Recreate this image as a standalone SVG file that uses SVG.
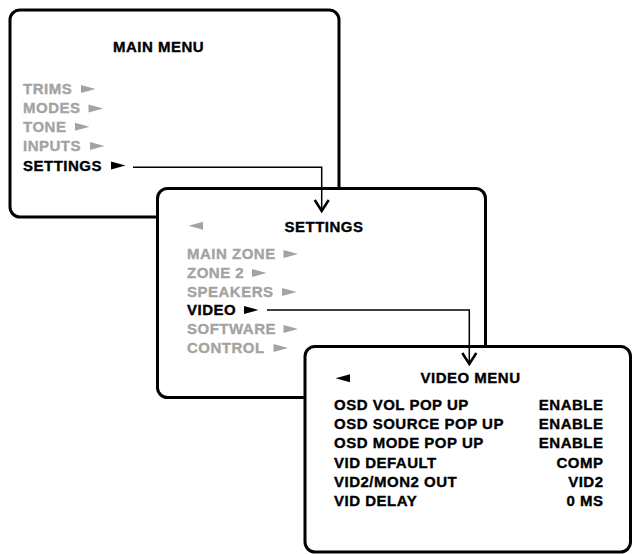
<svg xmlns="http://www.w3.org/2000/svg" width="633" height="554" viewBox="0 0 633 554">
<defs>
<style>
.box{fill:#fff;stroke:#000;stroke-width:3}
text{font-family:"Liberation Sans",Arial,sans-serif;font-weight:bold;font-size:15px;letter-spacing:0.5px;stroke-width:0.35px}
.g{fill:#a3a3a3;stroke:#a3a3a3}
.k{fill:#000;stroke:#000}
.t{text-anchor:middle}
.r{text-anchor:end}
.conn{fill:none;stroke:#000;stroke-width:1.5}
</style>
<polygon id="ptr-r" points="0,-4 14.5,0 0,4"/>
<polygon id="ptr-l" points="14.5,-4 0,0 14.5,4"/>
<marker id="chev" viewBox="-14 -9 16 18" markerWidth="16" markerHeight="18" refX="0" refY="0" orient="auto" markerUnits="userSpaceOnUse">
<path d="M-11,-7 L0,0 L-11,7" fill="none" stroke="#000" stroke-width="2.5"/>
</marker>
</defs>
<rect width="633" height="554" fill="#fff"/>
<g id="main-menu">
<rect class="box" x="10" y="10" width="329" height="207" rx="10"/>
<text class="k t" x="158.5" y="52">MAIN MENU</text>
<text class="g" x="23" y="94">TRIMS</text>
<text class="g" x="23" y="113.3">MODES</text>
<text class="g" x="23" y="131.7">TONE</text>
<text class="g" x="23" y="151">INPUTS</text>
<text class="k" x="23" y="170.5">SETTINGS</text>
<use href="#ptr-r" x="81" y="89" fill="#a3a3a3"/>
<use href="#ptr-r" x="88.5" y="108.5" fill="#a3a3a3"/>
<use href="#ptr-r" x="75" y="126.8" fill="#a3a3a3"/>
<use href="#ptr-r" x="90" y="146" fill="#a3a3a3"/>
<use href="#ptr-r" x="111" y="165.5" fill="#000"/>
</g>
<g id="settings-menu">
<rect class="box" x="157.5" y="188.5" width="328" height="209" rx="10"/>
<use href="#ptr-l" x="188.5" y="225.7" fill="#a3a3a3"/>
<text class="k t" x="324" y="232">SETTINGS</text>
<text class="g" x="187" y="259">MAIN ZONE</text>
<text class="g" x="187" y="278">ZONE 2</text>
<text class="g" x="187" y="297">SPEAKERS</text>
<text class="k" x="187" y="315">VIDEO</text>
<text class="g" x="187" y="334">SOFTWARE</text>
<text class="g" x="187" y="353">CONTROL</text>
<use href="#ptr-r" x="283.5" y="254" fill="#a3a3a3"/>
<use href="#ptr-r" x="252" y="273" fill="#a3a3a3"/>
<use href="#ptr-r" x="282" y="292" fill="#a3a3a3"/>
<use href="#ptr-r" x="244" y="310" fill="#000"/>
<use href="#ptr-r" x="283.5" y="329" fill="#a3a3a3"/>
<use href="#ptr-r" x="273.5" y="348" fill="#a3a3a3"/>
</g>
<g id="video-menu">
<rect class="box" x="305" y="346.5" width="325.5" height="205.5" rx="10"/>
<use href="#ptr-l" x="335.5" y="378.3" fill="#000"/>
<text class="k t" x="470.5" y="383">VIDEO MENU</text>
<text class="k" x="334" y="410">OSD VOL POP UP</text>
<text class="k" x="334" y="429">OSD SOURCE POP UP</text>
<text class="k" x="334" y="448">OSD MODE POP UP</text>
<text class="k" x="334" y="468">VID DEFAULT</text>
<text class="k" x="334" y="487">VID2/MON2 OUT</text>
<text class="k" x="334" y="506">VID DELAY</text>
<text class="k r" x="603.5" y="410">ENABLE</text>
<text class="k r" x="603.5" y="429">ENABLE</text>
<text class="k r" x="603.5" y="448">ENABLE</text>
<text class="k r" x="603.5" y="468">COMP</text>
<text class="k r" x="603.5" y="487">VID2</text>
<text class="k r" x="603.5" y="506">0 MS</text>
</g>
<g id="connectors">
<path class="conn" d="M133,167.3 H321.7 V211" marker-end="url(#chev)"/>
<path class="conn" d="M267,310 H469.3 V364" marker-end="url(#chev)"/>
</g>
</svg>
